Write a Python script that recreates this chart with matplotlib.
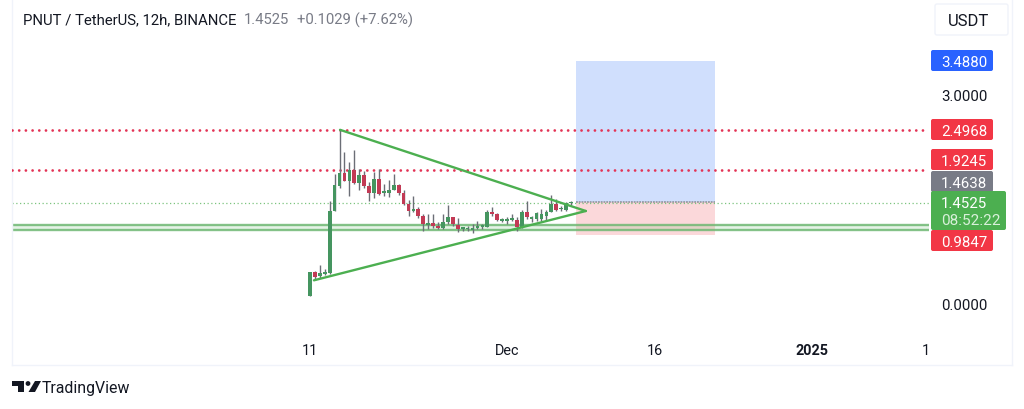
import matplotlib
matplotlib.use("Agg")
import matplotlib.pyplot as plt
from matplotlib.patches import FancyBboxPatch, Polygon, Rectangle, Circle

plt.rcParams['font.family'] = ['Roboto', 'DejaVu Sans']

opens = [0.11,0.46,0.40,0.43,0.445,1.34,1.70,1.88,1.77,1.93,1.74,1.85,1.70,1.59,1.79,1.60,1.60,1.64,1.71,1.60,1.435,1.34,1.365,1.27,1.14,1.16,1.125,1.09,1.17,1.245,1.14,1.08,1.07,1.065,1.095,1.11,1.11,1.315,1.29,1.195,1.185,1.205,1.21,1.11,1.325,1.22,1.22,1.22,1.26,1.315,1.435,1.36,1.355,1.445]
highs = [0.46,0.47,0.56,0.50,1.48,1.87,2.51,2.18,2.04,2.21,1.94,1.91,1.75,1.90,1.94,1.72,1.78,1.87,1.72,1.64,1.49,1.55,1.39,1.29,1.29,1.29,1.17,1.29,1.42,1.25,1.23,1.11,1.115,1.15,1.195,1.15,1.355,1.39,1.30,1.23,1.245,1.29,1.245,1.355,1.48,1.27,1.325,1.365,1.355,1.565,1.51,1.40,1.46,1.48]
lows = [0.11,0.34,0.37,0.41,0.43,1.34,1.665,1.77,1.55,1.72,1.64,1.665,1.48,1.52,1.565,1.55,1.535,1.63,1.565,1.42,1.27,1.32,1.235,1.05,1.08,1.085,1.08,1.08,1.15,1.125,1.04,1.05,1.05,1.02,1.08,1.08,1.10,1.26,1.185,1.17,1.15,1.185,1.05,1.085,1.22,1.17,1.195,1.195,1.195,1.315,1.33,1.335,1.34,1.42]
closes = [0.455,0.39,0.445,0.445,1.34,1.71,1.88,1.77,1.93,1.74,1.85,1.70,1.59,1.79,1.58,1.61,1.64,1.71,1.60,1.435,1.34,1.365,1.27,1.15,1.16,1.115,1.09,1.17,1.245,1.15,1.08,1.09,1.085,1.09,1.125,1.125,1.325,1.295,1.20,1.21,1.22,1.22,1.11,1.315,1.245,1.245,1.30,1.29,1.325,1.435,1.35,1.375,1.445,1.4525]

tick_positions = [0, 40, 70, 102, 125]
tick_labels = ['11', 'Dec', '16', '2025', '1']
tick_bold = [False, False, False, True, False]

resistance_levels = [2.4968, 1.9245]
support_band = [1.06, 1.14]
last_price = 1.4525
entry = 1.4638
target = 3.4880
stop = 0.9847
position_span = [54.0, 82.2]
upper_trend_x = [6.1, 56.0]
upper_trend_y = [2.50, 1.335]
lower_trend_x = [0.8, 56.0]
lower_trend_y = [0.34, 1.335]

GREEN = '#4caf50'
CANDLE_UP = '#459560'
CANDLE_DOWN = '#c23a55'
RED = '#f23645'

W, H = 1024, 410
fig = plt.figure(figsize=(W/100, H/100), dpi=100, facecolor='white')
ax = fig.add_axes([12/W, 1-366/H, 1000/W, 366/H])
px_per_bar = 4.925
ax.set_xlim((12-310)/px_per_bar, (1012-310)/px_per_bar)
px_per_unit = (305-96)/3.0
ax.set_ylim((305-366)/px_per_unit, 305/px_per_unit)
ax.spines['top'].set_visible(False)
for s in ['bottom', 'right', 'left']:
    ax.spines[s].set_color('#f0f3fa')
    ax.spines[s].set_linewidth(1.0)
ax.yaxis.set_visible(False)
ax.set_xticks(tick_positions)
ax.set_xticklabels(tick_labels)
ax.tick_params(axis='x', length=0, pad=-15.5, labelsize=10.4, colors='#131722')
for lab_, b in zip(ax.get_xticklabels(), tick_bold):
    if b:
        lab_.set_fontweight('bold')

x_end = (929-310)/px_per_bar
x_start = ax.get_xlim()[0]

ax.add_patch(Rectangle((position_span[0], entry), position_span[1]-position_span[0], target-entry,
                       fc='#d0dffd', ec='none', zorder=1))
ax.add_patch(Rectangle((position_span[0], stop), position_span[1]-position_span[0], entry-stop,
                       fc='#fbd8da', ec='none', zorder=1))
ax.plot(position_span, [entry, entry], color='#8a8d96', lw=1.1, ls=(0, (1.2, 0.6)), zorder=2)

ax.add_patch(Rectangle((x_start, support_band[0]), x_end-x_start, support_band[1]-support_band[0],
                       fc='#4caf50', alpha=0.14, ec='none', zorder=2))
for v in support_band:
    ax.plot([x_start, x_end], [v, v], color='#6fb873', alpha=0.85, lw=1.7, zorder=2, solid_capstyle='butt')

for v in resistance_levels:
    ax.plot([x_start, x_end], [v, v], color='#e33355', lw=2.0, ls=(0, (0.01, 2.4)), zorder=3,
            dash_capstyle='round')
ax.plot([x_start, x_end], [last_price, last_price], color='#7cc47f', lw=0.9, ls=(0, (1, 2)), zorder=2)

for i, (o, h, l, c) in enumerate(zip(opens, highs, lows, closes)):
    col = CANDLE_UP if c >= o else CANDLE_DOWN
    ax.plot([i, i], [l, h], color='#6b6e76', lw=1.0, zorder=4, solid_capstyle='butt')
    bottom, top = min(o, c), max(o, c)
    ax.add_patch(Rectangle((i-0.38, bottom), 0.76, max(top-bottom, 0.025), fc=col, ec='none', zorder=5))

ax.plot(upper_trend_x, upper_trend_y, color=GREEN, lw=1.7, zorder=6, solid_capstyle='round')
ax.plot(lower_trend_x, lower_trend_y, color=GREEN, lw=1.7, zorder=6, solid_capstyle='round')

ov = fig.add_axes([0, 0, 1, 1], facecolor='none')
ov.set_xlim(0, W); ov.set_ylim(H, 0); ov.axis('off')

def tag(x0, x1, y0, y1, fc, ec=None):
    ov.add_patch(FancyBboxPatch((x0+2, y0+2), x1-x0-4, y1-y0-4, boxstyle='round,pad=2,rounding_size=2',
                                fc=fc, ec=ec if ec else 'none', lw=1 if ec else 0, zorder=3))

FS = 10.8
tx = 941
def lab(y, s, color='white', fs=FS):
    ov.text(tx, y, s, color=color, fontsize=fs, ha='left', va='center', zorder=6)

tag(931, 993, 51, 72, '#2962ff')
lab(63, '3.4880')
lab(97, '3.0000', '#131722')
tag(931, 993, 120, 141, RED)
lab(132, '2.4968')
tag(931, 993, 150, 171, RED)
lab(162, '1.9245')
tag(931, 993, 172, 193, '#787b86')
lab(184, '1.4638')
tag(931, 1006, 192, 231, GREEN)
lab(204.5, '1.4525')
lab(221.5, '08:52:22', '#d9f0da', 11.0)
tag(931, 993, 231, 252, RED)
lab(243, '0.9847')
lab(306, '0.0000', '#131722')

tag(935, 1008, 5, 36, 'white', ec='#f0f3fa')
ov.text(968.5, 21.5, 'USDT', color='#131722', fontsize=12, ha='center', va='center', zorder=6)

ov.text(23, 20, 'PNUT / TetherUS, 12h, BINANCE', color='#131722', fontsize=10.7, ha='left', va='center')
ov.text(244, 20, '1.4525', color='#787b86', fontsize=10.7, ha='left', va='center')
ov.text(297, 20, '+0.1029 (+7.62%)', color='#787b86', fontsize=10.7, ha='left', va='center')

ov.add_patch(Polygon([(12, 382), (24, 382), (24, 393), (18, 393), (18, 387), (12, 387)], fc='#131722', ec='none'))
ov.add_patch(Circle((28, 384.5), 2.4, fc='#131722', ec='none'))
ov.add_patch(Polygon([(35, 382), (41, 382), (35, 393), (28.5, 393)], fc='#131722', ec='none'))
ov.text(42, 388.5, 'TradingView', color='#131722', fontsize=11.4, ha='left', va='center')

fig.savefig('out.png', dpi=100, facecolor='white')
